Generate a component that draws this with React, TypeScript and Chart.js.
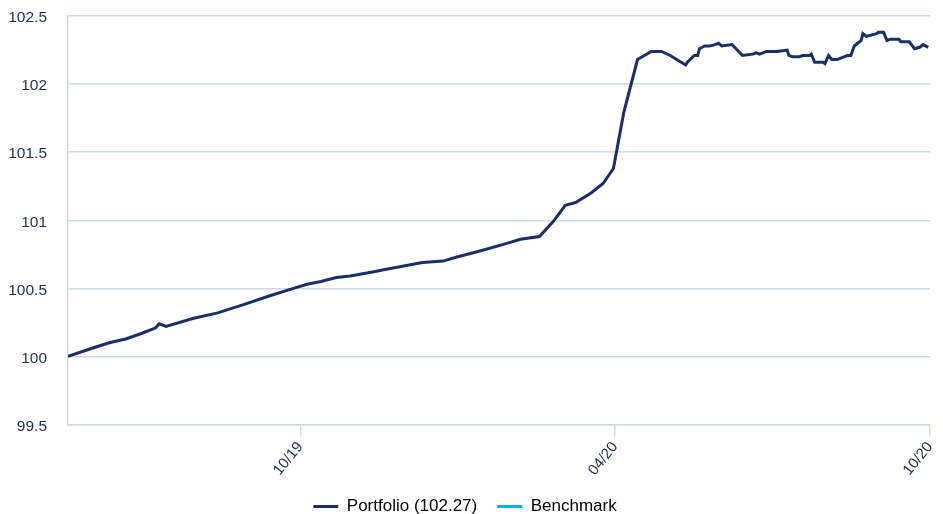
import React, { useEffect, useRef } from "react";
import { Chart, registerables } from "chart.js";

Chart.register(...registerables);

// Portfolio index level, sampled at irregular dates
const dates: string[] = [
  "2019-05-19", "2019-06-02", "2019-06-12", "2019-06-22", "2019-07-01", "2019-07-09",
  "2019-07-11", "2019-07-15", "2019-07-31", "2019-08-14", "2019-08-29", "2019-09-12",
  "2019-09-27", "2019-10-05", "2019-10-13", "2019-10-22", "2019-10-30", "2019-11-12",
  "2019-11-20", "2019-12-11", "2019-12-23", "2019-12-31", "2020-01-09", "2020-01-15",
  "2020-01-29", "2020-02-06", "2020-02-17", "2020-02-25", "2020-03-03", "2020-03-09",
  "2020-03-18", "2020-03-25", "2020-03-31", "2020-04-06", "2020-04-14", "2020-04-22",
  "2020-04-28", "2020-05-03", "2020-05-12", "2020-05-13", "2020-05-17", "2020-05-19",
  "2020-05-20", "2020-05-23", "2020-05-26", "2020-05-29", "2020-05-31", "2020-06-02",
  "2020-06-08", "2020-06-14", "2020-06-20", "2020-06-22", "2020-06-24", "2020-06-28",
  "2020-07-04", "2020-07-10", "2020-07-11", "2020-07-13", "2020-07-17", "2020-07-19",
  "2020-07-23", "2020-07-24", "2020-07-26", "2020-07-31", "2020-08-01", "2020-08-03",
  "2020-08-05", "2020-08-08", "2020-08-14", "2020-08-16", "2020-08-18", "2020-08-22",
  "2020-08-23", "2020-08-25", "2020-08-31", "2020-09-01", "2020-09-04", "2020-09-06",
  "2020-09-08", "2020-09-13", "2020-09-14", "2020-09-19", "2020-09-22", "2020-09-25",
  "2020-09-27", "2020-09-30",
];

const portfolio: number[] = [
  100.0, 100.06, 100.1, 100.13, 100.17, 100.21,
  100.24, 100.22, 100.28, 100.32, 100.38, 100.44,
  100.5, 100.53, 100.55, 100.58, 100.59, 100.62,
  100.64, 100.69, 100.7, 100.73, 100.76, 100.78,
  100.83, 100.86, 100.88, 100.99, 101.11, 101.13,
  101.2, 101.27, 101.38, 101.79, 102.18, 102.24,
  102.24, 102.21, 102.14, 102.16, 102.21, 102.21,
  102.26, 102.28, 102.28, 102.29, 102.3, 102.28,
  102.29, 102.21, 102.22, 102.23, 102.22, 102.24,
  102.24, 102.25, 102.21, 102.2, 102.2, 102.21,
  102.21, 102.22, 102.16, 102.16, 102.15, 102.21,
  102.18, 102.18, 102.21, 102.21, 102.28, 102.32,
  102.37, 102.35, 102.37, 102.38, 102.38, 102.32,
  102.33, 102.33, 102.31, 102.31, 102.26, 102.27,
  102.29, 102.27,
];

const benchmark: number[] = [];

const xRange: string[] = ["2019-05-19", "2020-10-01"];
const xTickDates: string[] = ["2019-10-01", "2020-04-01", "2020-10-01"];
const yRange: number[] = [99.5, 102.5];

const NAVY = "#182f6a";
const CYAN = "#00b2e6";
const GRID = "#cfd9e6";
const TICK_TEXT = "#1e2b5a";

const toMs = (d: string) => {
  const [y, m, day] = d.split("-").map(Number);
  return Date.UTC(y, m - 1, day);
};

const fmtTick = (v: number) => {
  const d = new Date(v);
  const mm = String(d.getUTCMonth() + 1).padStart(2, "0");
  const yy = String(d.getUTCFullYear() % 100).padStart(2, "0");
  return `${mm}/${yy}`;
};

export default function App() {
  const canvasRef = useRef<HTMLCanvasElement | null>(null);

  useEffect(() => {
    document.body.style.margin = "0";
    const canvas = canvasRef.current;
    if (!canvas) return;

    Chart.defaults.font.family = "'Liberation Sans', Arial, sans-serif";

    const latest = portfolio[portfolio.length - 1].toFixed(2);

    const chart = new Chart(canvas, {
      type: "line",
      data: {
        datasets: [
          {
            label: `Portfolio (${latest})`,
            data: dates.map((d, i) => ({ x: toMs(d), y: portfolio[i] })),
            borderColor: NAVY,
            backgroundColor: NAVY,
            borderWidth: 3,
            pointRadius: 0,
            tension: 0,
          },
          {
            label: "Benchmark",
            data: benchmark.map((v, i) => ({ x: toMs(dates[i]), y: v })),
            borderColor: CYAN,
            backgroundColor: CYAN,
            borderWidth: 3,
            pointRadius: 0,
            tension: 0,
          },
        ],
      },
      options: {
        animation: false,
        responsive: false,
        maintainAspectRatio: false,
        layout: { padding: { left: 0, right: 13, top: 16, bottom: -11 } },
        plugins: {
          tooltip: { enabled: false },
          legend: {
            position: "bottom",
            labels: {
              boxWidth: 25,
              boxHeight: 3,
              padding: 20,
              color: "#3a3a3a",
              font: { size: 17 },
              generateLabels: (c) =>
                c.data.datasets.map((ds, i) => ({
                  text: ds.label as string,
                  fillStyle: ds.borderColor as string,
                  strokeStyle: ds.borderColor as string,
                  lineWidth: 0,
                  hidden: false,
                  datasetIndex: i,
                })),
            },
          },
        },
        scales: {
          x: {
            type: "linear",
            min: toMs(xRange[0]),
            max: toMs(xRange[1]),
            afterBuildTicks: (axis) => {
              axis.ticks = xTickDates.map((d) => ({ value: toMs(d) }));
            },
            afterFit: (scale) => {
              scale.height = 53.5;
              scale.paddingLeft = 0;
              scale.paddingRight = 0;
            },
            grid: {
              drawOnChartArea: false,
              drawTicks: true,
              tickLength: 12,
              color: GRID,
              lineWidth: 1.5,
            },
            border: { display: true, color: GRID, width: 1.5 },
            ticks: {
              autoSkip: false,
              minRotation: 51,
              maxRotation: 51,
              padding: 2,
              color: TICK_TEXT,
              font: { size: 15 },
              callback: (v) => fmtTick(Number(v)),
            },
          },
          y: {
            min: yRange[0],
            max: yRange[1],
            afterFit: (scale) => {
              scale.width = 68;
            },
            grid: {
              color: GRID,
              lineWidth: 1.5,
              drawTicks: true,
              tickLength: 18,
              tickColor: "rgba(0,0,0,0)",
            },
            border: { display: true, color: GRID, width: 1.5 },
            ticks: {
              stepSize: 0.5,
              padding: 3,
              labelOffset: 2,
              color: TICK_TEXT,
              font: { size: 15.5 },
              callback: (v) => String(Number(v)),
            },
          },
        },
      },
    });

    return () => chart.destroy();
  }, []);

  return (
    <div style={{ width: 943, height: 514 }}>
      <canvas ref={canvasRef} width={943} height={514} />
    </div>
  );
}
